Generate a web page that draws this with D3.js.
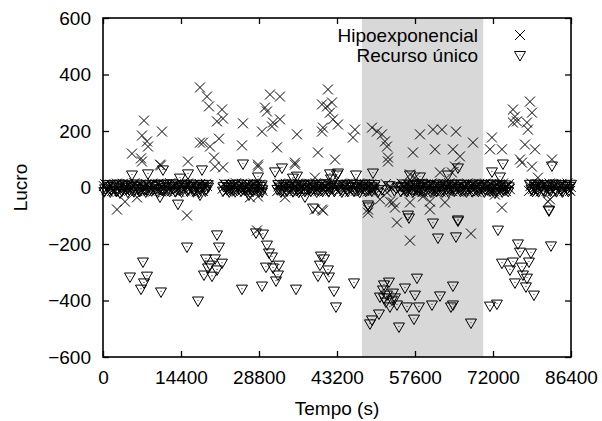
<!DOCTYPE html>
<html>
<head>
<meta charset="utf-8">
<script src="https://cdn.jsdelivr.net/npm/d3@7"></script>
<style>
  body { margin: 0; background: #fff; }
  text { font-family: "Liberation Sans", Arial, sans-serif; }
</style>
</head>
<body>
<script>
// eixo x: segundos do dia, eixo y: lucro
const xTicks = [0, 14400, 28800, 43200, 57600, 72000, 86400];
const yTicks = [-600, -400, -200, 0, 200, 400, 600];
const seriesNames = ["Hipoexponencial", "Recurso único"];
const shadedSpan = [47800, 70200];

// Hipoexponencial: pontos espalhados
const hipoScatter = [
  [7569,237],[7199,184],[8122,163],[8307,145],[10891,198],[5353,120],[7015,103],[10707,78],
  [17906,354],[19198,322],[19568,287],[21967,276],[21044,234],[22152,244],[17906,159],[18460,159],
  [19752,145],[21414,173],[20491,106],[15691,92],[20675,74],[22152,71],[25844,227],[25659,149],
  [30828,329],[32674,322],[29905,283],[30274,269],[29351,198],[31382,230],[32674,241],[31197,216],
  [32120,142],[28613,74],[35812,188],[35443,88],[41535,347],[40427,294],[41350,287],[41904,265],
  [40612,212],[40427,198],[42458,241],[39689,124],[42827,99],[42273,301],[43381,223],[46520,205],
  [46150,177],[49657,212],[50580,198],[51503,188],[52057,163],[52426,145],[52611,106],[58518,188],
  [57226,124],[60918,205],[62579,205],[61287,135],[65164,198],[64610,135],[65902,110],[68302,159],
  [71809,177],[71440,135],[73655,135],[75686,276],[76054,251],[76424,234],[75686,230],[78824,304],
  [79194,265],[78270,230],[78455,205],[77901,152],[79747,135],[76978,99],[79194,74],[82886,99],
  [7199,92],[10522,81],[2585,-78],[4061,-50],[6276,-35],[15506,-99],[28428,-152],[39135,-78],
  [28613,81],[35443,81],[27136,-35],[28613,-32],[33597,-35],[39135,35],[52611,92],[56672,46],
  [57595,35],[52980,4],[52426,-18],[53534,-53],[52980,-50],[53903,-71],[56672,-53],[57964,-18],
  [59072,-32],[60364,-50],[60364,-78],[62210,53],[61656,-18],[63133,-53],[48919,-78],[51134,-42],
  [48919,-89],[54272,-124],[56672,-188],[67933,-163],[73655,-71],[82147,-50],[72363,-25],[82516,-42],
  [77347,88],[80301,35],[64979,74],[64425,53],[40427,-78],[40612,-82]
];

// Hipoexponencial: faixa densa perto de zero
const hipoBase = [
  [150,5],[700,-8],[1200,3],[1700,-12],[2300,6],[2800,-4],[3300,9],[3900,-6],[4400,2],[5000,-10],
  [5500,7],[6100,-3],[6600,4],[7200,-9],[7700,1],[8300,6],[8800,-5],[9400,3],[9900,-11],[10500,8],
  [11000,-2],[11600,5],[12100,-7],[12700,2],[13200,9],[13800,-4],[14300,6],[14900,-8],[15400,3],
  [16000,-5],[16500,7],[17100,-3],[17600,4],[18200,-9],[18700,2],[19200,5],
  [22100,-4],[22600,6],[23200,-9],[23700,3],[24300,7],[24800,-5],[25400,2],[25900,-8],[26500,5],
  [27000,-3],[27600,8],[28100,-6],[28700,2],[29300,-4],
  [32400,4],[32900,-7],[33500,6],[34000,-3],[34600,9],[35100,-5],[35700,2],[36200,-8],[36800,5],
  [37300,-2],[37900,7],[38400,-6],[39000,3],[39500,-9],[40100,6],[40600,-4],[41200,2],[41700,-7],
  [42300,5],[42800,-3],
  [43700,6],[44200,-5],[44800,3],[45300,-8],[45900,7],[46400,-2],[47000,4],[47500,-6],[48100,8],
  [48600,-3],[49200,5],[49700,-7],[50200,2],[51000,-10],[52200,12],[53300,-4],[54200,6],
  [54900,-6],[55400,4],[56000,-9],[56500,7],[57100,-3],[57600,5],[58200,-8],[58700,2],[59300,9],
  [59800,-5],[60400,3],[60900,-7],[61500,6],[62000,-2],[62600,8],[63100,-6],[63700,4],[64200,-9],
  [64800,5],[65300,-3],[65900,7],[66400,-5],[67000,2],[67500,-8],[68100,6],[68600,-4],[69200,3],
  [69700,-7],[70300,8],[70800,-2],[71400,5],[71900,-6],[72500,3],[73000,-8],[73600,6],[74100,-3],
  [74700,4],[75100,-6],
  [78900,5],[79400,-6],[80000,3],[80500,-9],[81100,7],[81600,-3],[82200,4],[82700,-7],[83300,6],
  [83800,-2],[84400,8],[84900,-5],[85500,3],[86000,-6],[86350,2]
];

// Hipoexponencial: mais pontos perto de zero
const hipoBase2 = [
  [420,12],[980,-15],[1450,10],[2050,-13],[2550,14],[3050,-11],[3650,13],[4150,-14],[4700,11],
  [5250,-6],[5800,15],[6350,-13],[6900,10],[7450,-15],[8000,12],[8550,-11],[9100,14],[9650,-7],
  [10200,13],[10750,-14],[11300,11],[11850,-12],[12400,15],[12950,-10],[13500,12],[14050,-15],
  [14600,13],[15150,-11],[15700,14],[16250,-13],[16800,10],[17350,-14],[17900,12],[18450,-12],
  [19000,13],
  [22350,13],[22900,-14],[23450,11],[24000,-12],[24550,15],[25100,-10],[25650,13],[26200,-15],
  [26750,12],[27300,-11],[27850,14],[28400,-13],[28950,10],[29450,-12],
  [32150,-13],[32650,14],[33200,-11],[33750,13],[34300,-15],[34850,12],[35400,-12],[35950,14],
  [36500,-13],[37050,11],[37600,-14],[38150,13],[38700,-10],[39250,15],[39800,-12],[40350,12],
  [40900,-14],[41450,13],[42000,-11],[42550,14],
  [43450,-12],[43950,14],[44500,-13],[45050,11],[45600,-15],[46150,13],[46700,-11],[47250,14],
  [47800,-13],[48350,12],[48900,-14],[49450,11],[49950,-12],
  [55150,13],[55700,-14],[56250,11],[56800,-13],[57350,15],[57900,-11],[58450,13],[59000,-15],
  [59550,12],[60100,-12],[60650,14],[61200,-13],[61750,11],[62300,-14],[62850,13],[63400,-11],
  [63950,15],[64500,-13],[65050,12],[65600,-14],[66150,11],[66700,-12],[67250,14],[67800,-13],
  [68350,12],[68900,-15],[69450,13],[70000,-11],[70550,14],[71100,-13],[71650,12],[72200,-14],
  [72750,11],[73300,-12],[73850,14],[74400,-13],[74900,12],
  [78650,-12],[79150,14],[79700,-13],[80250,12],[80800,-14],[81350,11],[81900,-12],[82450,14],
  [83000,-13],[83550,12],[84100,-15],[84650,13],[85200,-11],[85750,14],[86250,-12]
];

// Recurso único: pontos espalhados
const recScatter = [
  [7384,-262],[4984,-315],[8122,-312],[7569,-336],[7015,-358],[10707,-368],[15506,-209],[21044,-166],
  [21414,-209],[19014,-251],[20675,-251],[19752,-273],[21967,-266],[19383,-283],[21044,-290],[18645,-308],
  [20121,-312],[17537,-400],[25659,-358],[28244,-159],[29536,-163],[30274,-202],[30644,-230],[31197,-244],
  [32490,-273],[30089,-280],[31382,-283],[32305,-308],[31936,-329],[29351,-347],[35628,-358],[40243,-241],
  [40797,-251],[40058,-273],[41535,-290],[39689,-312],[41719,-315],[42642,-365],[43012,-421],[46335,-336],
  [52796,-333],[51688,-361],[51134,-386],[52426,-379],[53903,-389],[55749,-354],[57595,-379],[57964,-319],
  [54272,-414],[56118,-421],[58334,-421],[52980,-421],[50950,-446],[49657,-467],[49288,-481],[54642,-492],
  [57410,-464],[60733,-414],[62210,-382],[64610,-347],[64610,-414],[64241,-421],[67933,-478],[56488,-106],
  [60918,-124],[65533,-117],[61841,-177],[65164,-173],[49104,-67],[72917,-149],[76609,-198],[76978,-227],
  [79009,-230],[78640,-262],[75686,-262],[73655,-266],[75132,-290],[77347,-280],[77532,-308],[76054,-336],
  [78270,-319],[78086,-350],[79563,-379],[82701,-205],[71440,-418],[72732,-411],[82332,-81],[13845,-57],
  [51872,-389],[53349,-397],[51872,-343],[53534,-372],[52242,-404],
  [5353,46],[8307,50],[11076,64],[14214,35],[15691,50],[18275,64],[25844,85],[28613,39],[31751,57],
  [33043,71],[35812,42],[41904,50],[43381,53],[46704,46],[49842,53],[65533,71],[71809,57],[73840,85],
  [82886,78],[35074,35],[3138,-18],[10522,-32],[17906,-25],[37289,-32],[29351,-14],[26952,-25],
  [42089,32],[38766,-71],[48919,-60],[56303,-96],[56672,46],[58518,39],[63687,46],[49657,4],
  [50765,-14],[73286,39],[79747,0],[72363,-18],[82332,-78],[65533,-113],[43196,46]
];

// Recurso único: faixa densa perto de zero
const recBase = [
  [400,-3],[950,6],[1500,-7],[2000,4],[2600,-10],[3100,2],[3600,8],[4200,-5],[4700,3],[5300,-8],
  [5800,5],[6400,-2],[6900,7],[7500,-6],[8000,3],[8600,-9],[9100,5],[9700,-3],[10200,8],[10800,-5],
  [11300,2],[11900,-8],[12400,6],[13000,-3],[13500,4],[14100,-7],[14600,2],[15200,7],[15700,-4],
  [16300,5],[16800,-8],[17400,3],[17900,-2],[18500,6],[19000,-5],[19400,3],
  [22300,5],[22900,-6],[23400,2],[24000,-8],[24500,6],[25100,-3],[25600,4],[26200,-7],[26700,3],
  [27300,-5],[27800,7],[28400,-2],[29000,5],[29400,-6],
  [32200,-5],[32700,3],[33200,-8],[33800,6],[34300,-2],[34900,5],[35400,-7],[36000,3],[36500,-4],
  [37100,8],[37600,-6],[38200,2],[38700,-3],[39300,6],[39800,-8],[40400,4],[40900,-2],[41500,7],
  [42000,-5],[42600,3],
  [43900,-4],[44500,7],[45000,-6],[45600,2],[46100,5],[46700,-8],[47200,3],[47800,-2],[48400,6],
  [48900,-7],[49500,4],[50000,-3],[51500,-6],[52800,8],[53800,-10],[54500,3],
  [55100,5],[55700,-7],[56200,3],[56800,-4],[57300,8],[57900,-6],[58400,2],[59000,-9],[59500,6],
  [60100,-3],[60600,4],[61200,-8],[61700,5],[62300,-2],[62800,7],[63400,-5],[63900,3],[64500,-7],
  [65000,6],[65600,-2],[66100,4],[66700,-8],[67200,5],[67800,-3],[68300,7],[68900,-6],[69400,2],
  [70000,-4],[70500,6],[71100,-7],[71600,3],[72200,-2],[72700,8],[73300,-5],[73800,3],[74400,-7],
  [74900,4],
  [79100,-4],[79700,6],[80200,-2],[80800,5],[81300,-7],[81900,3],[82400,-5],[83000,7],[83500,-3],
  [84100,4],[84600,-8],[85200,5],[85700,-2],[86200,6]
];

// Recurso único: mais pontos perto de zero
const recBase2 = [
  [250,-13],[800,12],[1350,-14],[1900,11],[2450,-12],[3000,14],[3500,-11],[4050,13],[4600,-15],
  [5150,10],[5700,-13],[6250,14],[6800,-12],[7350,11],[7900,-14],[8450,13],[9000,-10],[9550,12],
  [10100,-15],[10650,14],[11200,-11],[11750,13],[12300,-12],[12850,15],[13400,-13],[13950,11],
  [14500,-14],[15050,12],[15600,-11],[16150,14],[16700,-13],[17250,11],[17800,-15],[18350,13],
  [18900,-11],[19350,12],
  [22150,-11],[22750,13],[23300,-14],[23850,12],[24400,-13],[24950,14],[25500,-11],[26050,13],
  [26600,-15],[27150,12],[27700,-12],[28250,14],[28800,-13],[29300,11],
  [32350,12],[32850,-14],[33400,13],[33950,-11],[34500,14],[35050,-13],[35600,11],[36150,-15],
  [36700,13],[37250,-12],[37800,14],[38350,-11],[38900,12],[39450,-14],[40000,13],[40550,-12],
  [41100,15],[41650,-13],[42200,11],[42700,-12],
  [43600,11],[44100,-14],[44650,13],[45200,-12],[45750,14],[46300,-11],[46850,12],[47400,-15],
  [47950,13],[48500,-12],[49050,14],[49600,-11],[50100,12],
  [55000,-12],[55550,14],[56100,-13],[56650,11],[57200,-14],[57750,13],[58300,-11],[58850,15],
  [59400,-13],[59950,12],[60500,-14],[61050,11],[61600,-12],[62150,14],[62700,-13],[63250,11],
  [63800,-15],[64350,13],[64900,-11],[65450,14],[66000,-12],[66550,13],[67100,-14],[67650,11],
  [68200,-13],[68750,14],[69300,-12],[69850,12],[70400,-14],[70950,13],[71500,-11],[72050,14],
  [72600,-13],[73150,12],[73700,-14],[74250,11],[74800,-12],
  [78800,13],[79300,-12],[79850,14],[80400,-13],[80950,11],[81500,-14],[82050,12],[82600,-11],
  [83150,14],[83700,-13],[84250,12],[84800,-14],[85350,11],[85900,-12],[86400,13]
];

const width = 602, height = 421;
const margin = {top: 18, right: 31, bottom: 64, left: 103};

const svg = d3.select("body").append("svg")
    .attr("width", width)
    .attr("height", height);

const x = d3.scaleLinear().domain([0, 86400]).range([margin.left, width - margin.right]);
const y = d3.scaleLinear().domain([-600, 600]).range([height - margin.bottom, margin.top]);

const fmt = d3.format("d");

// faixa cinza
svg.append("rect")
    .attr("x", x(shadedSpan[0]))
    .attr("y", y(600))
    .attr("width", x(shadedSpan[1]) - x(shadedSpan[0]))
    .attr("height", y(-600) - y(600))
    .attr("fill", "#d8d8d8");

// eixos com ticks para dentro
const axB = svg.append("g").attr("transform", `translate(0,${y(-600)})`)
    .call(d3.axisBottom(x).tickValues(xTicks).tickSize(-6).tickPadding(14).tickFormat(fmt));
const axT = svg.append("g").attr("transform", `translate(0,${y(600)})`)
    .call(d3.axisTop(x).tickValues(xTicks).tickSize(-6).tickFormat(""));
const axL = svg.append("g").attr("transform", `translate(${x(0)},0)`)
    .call(d3.axisLeft(y).tickValues(yTicks).tickSize(-6).tickPadding(12).tickFormat(fmt));
const axR = svg.append("g").attr("transform", `translate(${x(86400)},0)`)
    .call(d3.axisRight(y).tickValues(yTicks).tickSize(-6).tickFormat(""));

[axB, axT, axL, axR].forEach(g => {
    g.select(".domain").remove();
    g.selectAll("line").attr("stroke", "#000").attr("stroke-width", 1.3);
    g.selectAll("text").attr("font-size", 19).attr("fill", "#000")
        .attr("font-family", "'Liberation Sans', Arial, sans-serif");
});

const crossPath = "M-5,-5L5,5M-5,5L5,-5";
const triPath = "M-5.5,-3.5L5.5,-3.5L0,6Z";

function drawCross(g, data) {
    g.selectAll("path.c")
        .data(data)
        .enter().append("path")
        .attr("class", "c")
        .attr("d", crossPath)
        .attr("transform", d => `translate(${x(d[0])},${y(d[1])})`)
        .attr("fill", "none")
        .attr("stroke", "#000")
        .attr("stroke-width", 1);
}

function drawTri(g, data) {
    const p = g.selectAll("g.t")
        .data(data)
        .enter().append("g")
        .attr("class", "t")
        .attr("transform", d => `translate(${x(d[0])},${y(d[1])})`);
    p.append("path")
        .attr("d", triPath)
        .attr("fill", "none")
        .attr("stroke", "#000")
        .attr("stroke-width", 1);
    p.append("circle").attr("r", 0.6).attr("fill", "#333");
}

const plot = svg.append("g");
drawCross(plot.append("g"), hipoBase.concat(hipoBase2, hipoScatter));
drawTri(plot.append("g"), recBase.concat(recBase2, recScatter));

// moldura
svg.append("rect")
    .attr("x", x(0))
    .attr("y", y(600))
    .attr("width", x(86400) - x(0))
    .attr("height", y(-600) - y(600))
    .attr("fill", "none")
    .attr("stroke", "#000")
    .attr("stroke-width", 1.6);

// legenda
const legend = svg.append("g");
const legY = [35, 55];
seriesNames.forEach((name, i) => {
    legend.append("text")
        .attr("x", 478)
        .attr("y", legY[i] + 7)
        .attr("text-anchor", "end")
        .attr("font-size", 19)
        .text(name);
});
drawCross(legend.append("g").attr("transform", `translate(${520 - x(0)},${legY[0] - y(0)})`), [[0, 0]]);
drawTri(legend.append("g").attr("transform", `translate(${520 - x(0)},${legY[1] - y(0)})`), [[0, 0]]);

// títulos dos eixos
svg.append("text")
    .attr("x", (x(0) + x(86400)) / 2)
    .attr("y", 415)
    .attr("text-anchor", "middle")
    .attr("font-size", 19)
    .text("Tempo (s)");

svg.append("text")
    .attr("transform", `translate(27,${y(0)}) rotate(-90)`)
    .attr("text-anchor", "middle")
    .attr("font-size", 19)
    .text("Lucro");
</script>
</body>
</html>
